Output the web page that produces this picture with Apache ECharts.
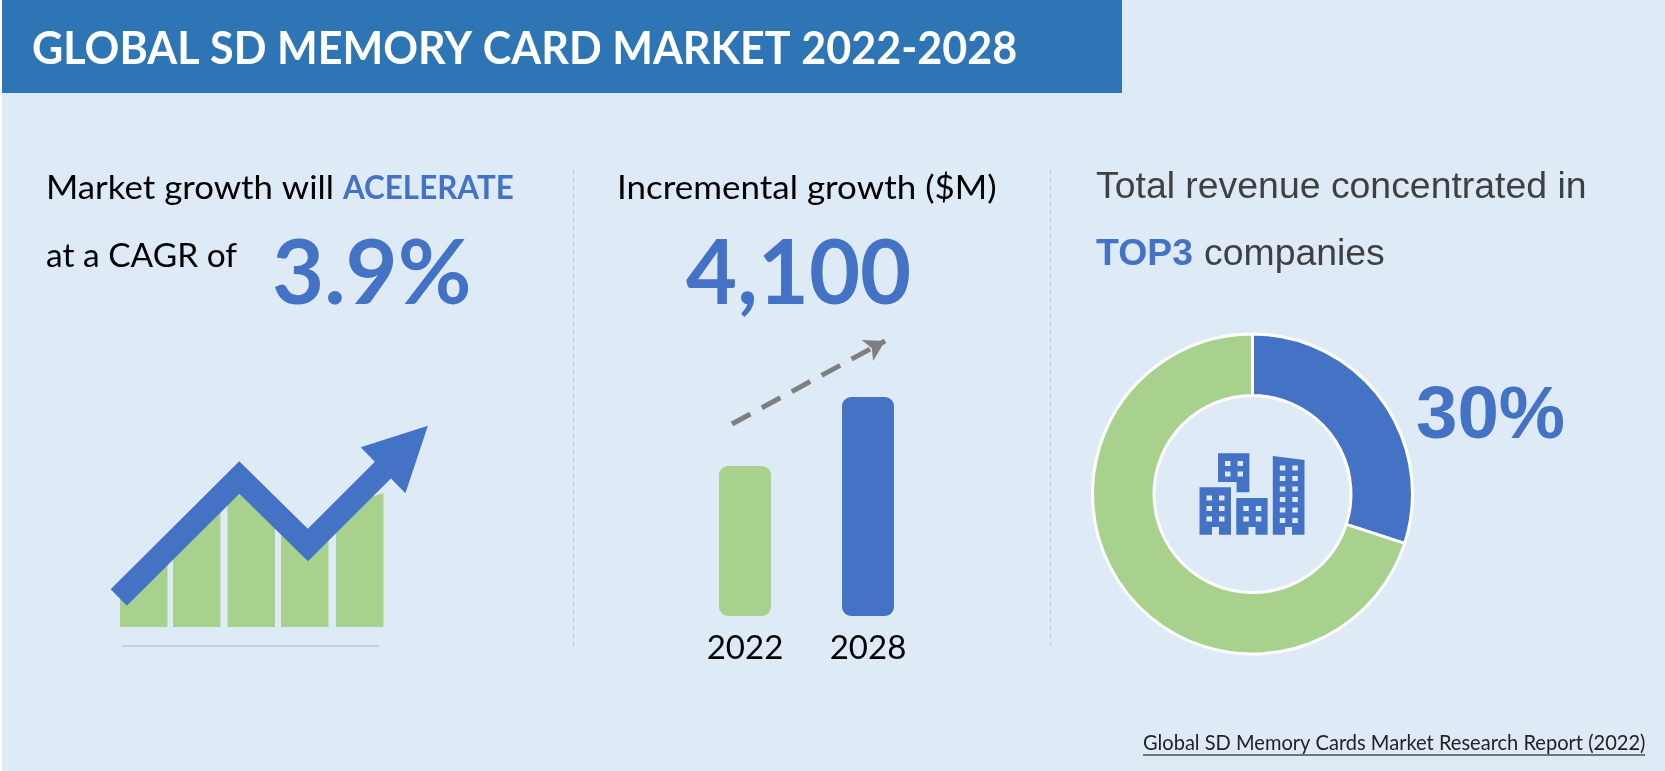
<!DOCTYPE html>
<html>
<head>
<meta charset="utf-8">
<title>Global SD Memory Card Market</title>
<script src="https://cdn.jsdelivr.net/npm/echarts@6/dist/echarts.min.js"></script>
<style>
  html, body { margin: 0; padding: 0; background: #fff; }
  #chart { width: 1665px; height: 771px; }
</style>
</head>
<body>
<div id="chart"></div>
<script>
// left panel: illustration bars, each top is sampled at 5 points across the bar
var growthBarStart = [20, 73, 127.5, 181, 236];
var growthBarTops = [
  [30, 30, 42, 54, 66],
  [72, 83, 95, 107, 119],
  [124, 136, 124, 113, 101],
  [95, 83, 72, 77, 88],
  [96, 107, 119, 130, 134]
];
var growthLine = [[18.75, 29.5], [139.3, 149.5], [207.9, 82], [290, 164]];
var growthHead = [[327.9, 201.3], [260.7, 179.7], [305.4, 133.7]];
var growthFloor = [[22, -19], [279, -19]];

// middle panel
var years = ['2022', '2028'];
var yearValues = [150, 219];
var trendLine = [[48.5, 192], [201.5, 275]];

// right panel
var shareNames = ['Top 3', 'Others'];
var shareValues = [30, 70];

var BLUE = '#4472c4', GREEN = '#a9d18e', BG = '#deebf7', HEADER = '#2e75b6';
var LATO = 'Lato, "Open Sans", sans-serif';
var ARIAL = '"Liberation Sans", Arial, sans-serif';

// sx squeezes the text a little, Lato is not as wide as the original font everywhere
function label(text, x, y, size, color, family, weight, sx) {
  return {
    type: 'text', z: 5, x: x, y: y, scaleX: sx || 1,
    style: {
      x: 0, y: 0, text: text, fill: color,
      font: (weight || 'normal') + ' ' + size + 'px ' + family,
      textAlign: 'left', textVerticalAlign: 'bottom'
    }
  };
}

function divider(x, y1, y2) {
  return {
    type: 'line', z: 1,
    shape: { x1: x, y1: y1, x2: x, y2: y2 },
    style: { stroke: '#bfc6cf', lineWidth: 1, lineDash: [5, 3] }
  };
}

function building(x, y, w, h, cols, rows, topY, rowStep) {
  var parts = [];
  for (var r = 0; r < rows; r++) {
    for (var c = 0; c < cols; c++) {
      parts.push({
        type: 'rect', z: 4,
        shape: { x: x + 7 + c * 12.5, y: topY + r * rowStep, width: 5.5, height: 5 },
        style: { fill: BG }
      });
    }
  }
  return parts;
}

var buildingShapes = [
  { type: 'polygon', z: 3, shape: { points: [[1199.5, 487.3], [1231, 487.3], [1231, 534.7], [1219, 534.7], [1219, 527], [1212, 527], [1212, 534.7], [1199.5, 534.7]] }, style: { fill: BLUE } },
  { type: 'polygon', z: 3, shape: { points: [[1218, 453.3], [1249.4, 453.3], [1249.4, 492.3], [1236.6, 492.3], [1236.6, 482], [1218, 482]] }, style: { fill: BLUE } },
  { type: 'polygon', z: 3, shape: { points: [[1236.3, 498], [1267.6, 498], [1267.6, 534.7], [1255.5, 534.7], [1255.5, 527], [1248.5, 527], [1248.5, 534.7], [1236.3, 534.7]] }, style: { fill: BLUE } },
  { type: 'polygon', z: 3, shape: { points: [[1272.8, 456], [1304.5, 460], [1304.5, 534.7], [1292, 534.7], [1292, 527], [1285, 527], [1285, 534.7], [1272.8, 534.7]] }, style: { fill: BLUE } }
]
  .concat(building(1199.5, 487, 31, 47, 2, 3, 495.5, 10.5))
  .concat(building(1218, 453, 31, 39, 2, 2, 461, 10.5))
  .concat(building(1236.3, 498, 31, 37, 2, 2, 506, 10.5))
  .concat(building(1272.8, 456, 32, 79, 2, 6, 465.5, 10.5));

var option = {
  animation: false,
  backgroundColor: '#fff',
  graphic: {
    elements: [
      { type: 'rect', z: 0, shape: { x: 2, y: 0, width: 1663, height: 771 }, style: { fill: BG } },
      { type: 'rect', z: 1, shape: { x: 2, y: 0, width: 1120, height: 93 }, style: { fill: HEADER } },
      label('GLOBAL SD MEMORY CARD MARKET 2022-2028', 32, 72, 46, '#fff', LATO, 'bold', 0.937),
      divider(573.5, 170, 648),
      divider(1050.5, 170, 645),
      label('Market growth will', 46, 204.5, 33, '#000', LATO, 'normal', 1.055),
      label('ACELERATE', 343, 204.5, 33, BLUE, LATO, 'bold', 0.95),
      label('at a CAGR of', 46, 272.5, 33, '#000', LATO, 'normal', 1.015),
      label('3.9%', 272, 319.5, 90, BLUE, LATO, 'bold'),
      label('Incremental growth ($M)', 617, 204.5, 33, '#000', LATO, 'normal', 1.06),
      label('4,100', 686, 319.5, 90, BLUE, LATO, 'bold', 0.98),
      label('Total revenue concentrated in', 1096, 206.5, 37.4, '#404040', ARIAL),
      label('TOP3', 1096, 273.5, 37.4, BLUE, ARIAL, 'bold'),
      label('companies', 1204, 273.5, 37.4, '#404040', ARIAL),
      label('30%', 1416, 455, 74.5, BLUE, ARIAL, 'bold'),
      label('Global SD Memory Cards Market Research Report (2022)', 1143, 753.5, 21, '#222', LATO, 'normal', 0.955),
      { type: 'line', z: 5, shape: { x1: 1143, y1: 755, x2: 1645, y2: 755 }, style: { stroke: '#000', lineWidth: 1 } }
    ].concat(buildingShapes)
  },
  grid: [
    { left: 100, width: 340, top: 377, height: 280 },
    { left: 683.5, width: 246, top: 336, height: 280 }
  ],
  xAxis: [
    { type: 'value', gridIndex: 0, min: 0, max: 340, show: false },
    {
      type: 'category', gridIndex: 1, data: years,
      axisLine: { show: false }, axisTick: { show: false },
      axisLabel: { fontFamily: LATO, fontSize: 33, color: '#000', margin: 16 }
    },
    { type: 'value', gridIndex: 1, min: 0, max: 246, show: false }
  ],
  yAxis: [
    { type: 'value', gridIndex: 0, min: -30, max: 250, show: false },
    { type: 'value', gridIndex: 1, min: 0, max: 280, show: false },
    { type: 'value', gridIndex: 1, min: 0, max: 280, show: false }
  ],
  series: [
    {
      // bars with the top cut along the arrow
      type: 'custom', xAxisIndex: 0, yAxisIndex: 0, clip: false, z: 2,
      data: growthBarStart.map(function (s, i) { return [s].concat(growthBarTops[i]); }),
      renderItem: function (params, api) {
        var start = api.value(0), w = 47.5, pts = [];
        pts.push(api.coord([start, 0]));
        for (var k = 0; k < 5; k++) {
          pts.push(api.coord([start + w * k / 4, api.value(k + 1)]));
        }
        pts.push(api.coord([start + w, 0]));
        return { type: 'polygon', shape: { points: pts }, style: { fill: GREEN } };
      }
    },
    {
      type: 'line', xAxisIndex: 0, yAxisIndex: 0, clip: false, z: 3, silent: true,
      data: growthLine, showSymbol: false,
      lineStyle: { color: BLUE, width: 23, join: 'miter', miterLimit: 10, cap: 'butt' }
    },
    {
      type: 'custom', xAxisIndex: 0, yAxisIndex: 0, clip: false, z: 4,
      data: [growthHead[0].concat(growthHead[1], growthHead[2])],
      renderItem: function (params, api) {
        var pts = [0, 2, 4].map(function (k) { return api.coord([api.value(k), api.value(k + 1)]); });
        return { type: 'polygon', shape: { points: pts }, style: { fill: BLUE } };
      }
    },
    {
      type: 'line', xAxisIndex: 0, yAxisIndex: 0, clip: false, z: 1,
      data: growthFloor, showSymbol: false,
      lineStyle: { color: '#aebccd', width: 1 }
    },
    {
      type: 'bar', xAxisIndex: 1, yAxisIndex: 1, barWidth: 52,
      data: yearValues.map(function (v, i) {
        return { value: v, itemStyle: { color: i === 0 ? GREEN : BLUE, borderRadius: 9 } };
      })
    },
    {
      type: 'line', xAxisIndex: 2, yAxisIndex: 2, clip: false, z: 3,
      data: [
        { value: trendLine[0], symbol: 'none' },
        { value: trendLine[1], symbol: 'arrow', symbolSize: [18, 20], symbolRotate: -61.5 }
      ],
      itemStyle: { color: '#7f7f7f' },
      lineStyle: { color: '#7f7f7f', width: 5, type: [21, 13] }
    },
    {
      type: 'pie', center: [1252.5, 494], radius: [98.5, 160], startAngle: 90,
      label: { show: false }, labelLine: { show: false }, silent: true,
      itemStyle: { borderColor: '#fff', borderWidth: 3 },
      data: shareValues.map(function (v, i) {
        return { name: shareNames[i], value: v, itemStyle: { color: i === 0 ? BLUE : GREEN } };
      })
    }
  ]
};

var chart = echarts.init(document.getElementById('chart'));
chart.setOption(option);
</script>
</body>
</html>
